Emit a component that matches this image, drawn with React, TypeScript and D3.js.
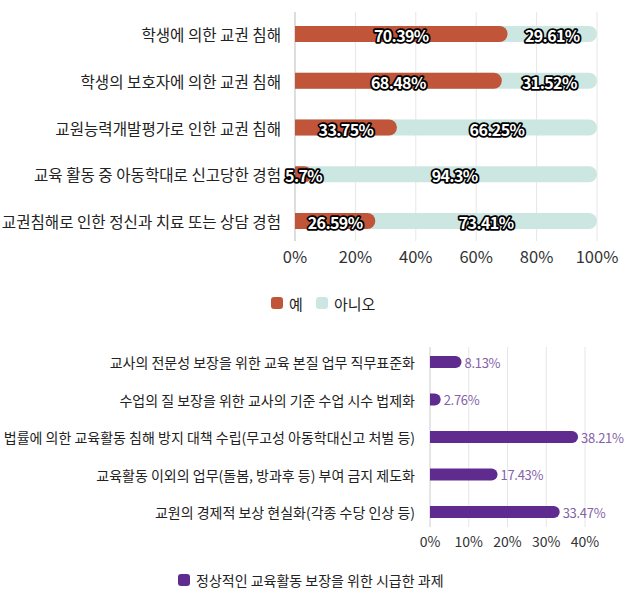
import React from "react";
import * as d3 from "d3";

const topCategories = [
  "학생에 의한 교권 침해",
  "학생의 보호자에 의한 교권 침해",
  "교원능력개발평가로 인한 교권 침해",
  "교육 활동 중 아동학대로 신고당한 경험",
  "교권침해로 인한 정신과 치료 또는 상담 경험",
];
const yesValues = [70.39, 68.48, 33.75, 5.7, 26.59];
const noValues = [29.61, 31.52, 66.25, 94.3, 73.41];
const topTicks = [0, 20, 40, 60, 80, 100];
const topLegend = ["예", "아니오"];

const bottomCategories = [
  "교사의 전문성 보장을 위한 교육 본질 업무 직무표준화",
  "수업의 질 보장을 위한 교사의 기준 수업 시수 법제화",
  "법률에 의한 교육활동 침해 방지 대책 수립(무고성 아동학대신고 처벌 등)",
  "교육활동 이외의 업무(돌봄, 방과후 등) 부여 금지 제도화",
  "교원의 경제적 보상 현실화(각종 수당 인상 등)",
];
const bottomValues = [8.13, 2.76, 38.21, 17.43, 33.47];
const bottomTicks = [0, 10, 20, 30, 40];
const bottomLegend = "정상적인 교육활동 보장을 위한 시급한 과제";

const RED = "#c0553a";
const TEAL = "#cce7e2";
const PURPLE = "#5f2b8f";
const PURPLE_TXT = "#8462a8";
const FONT = "'Noto Sans CJK KR', 'Noto Sans', sans-serif";

function roundRightPath(x0: number, x1: number, yc: number, h: number, r: number) {
  const w = x1 - x0;
  const rr = Math.min(r, w, h / 2);
  const y0 = yc - h / 2;
  const y1 = yc + h / 2;
  return `M${x0},${y0} L${x1 - rr},${y0} A${rr},${h / 2} 0 0 1 ${x1 - rr},${y1} L${x0},${y1} Z`;
}

export default function App() {
  const W = 628;
  const H = 593;

  const tx = d3.scaleLinear().domain([0, 100]).range([295, 597]);
  const ty = d3.scalePoint<string>().domain(topCategories).range([34, 221]);
  const barH = 16;

  const bx = d3.scaleLinear().domain([0, 40]).range([430, 585]);
  const by = d3.scalePoint<string>().domain(bottomCategories).range([362, 512]);
  const bH = 12;

  const fmt = (v: number) => `${v}%`;

  return (
    <svg width={W} height={H} style={{ position: "absolute", left: 0, top: 0, background: "#fff" }} fontFamily={FONT}>
      {topTicks.map((t) => (
        <line key={"tg" + t} x1={tx(t)} x2={tx(t)} y1={12} y2={241} stroke={t === 0 ? "#bbb" : "#e6e6e6"} strokeWidth={1} />
      ))}
      {topCategories.map((c, i) => {
        const yc = ty(c)!;
        return (
          <g key={"tb" + i}>
            <path d={roundRightPath(tx(0), tx(100), yc, barH, 8)} fill={TEAL} />
            <path d={roundRightPath(tx(0), tx(yesValues[i]), yc, barH, 8)} fill={RED} />
            <text x={281} y={yc} textAnchor="end" dominantBaseline="central" fontSize={15.6} fill="#222">{c}</text>
          </g>
        );
      })}
      {topCategories.map((c, i) => {
        const yc = ty(c)!;
        const yesC = tx(yesValues[i] / 2);
        const noC = tx(yesValues[i] + noValues[i] / 2);
        const st = { paintOrder: "stroke" as const, stroke: "#000", strokeWidth: 3.5, strokeLinejoin: "round" as const };
        return (
          <g key={"tl" + i} fontWeight="bold" fontSize={16} fill="#fff" letterSpacing={-0.6}>
            <text x={yesC} y={yc + 1} textAnchor="middle" dominantBaseline="central" style={st}>{fmt(yesValues[i])}</text>
            <text x={noC} y={yc + 1} textAnchor="middle" dominantBaseline="central" style={st}>{fmt(noValues[i])}</text>
          </g>
        );
      })}
      {topTicks.map((t) => (
        <text key={"tt" + t} x={tx(t)} y={256} textAnchor="middle" dominantBaseline="central" fontSize={16.5} fill="#333">{t}%</text>
      ))}
      <rect x={271} y={297} width={12} height={12} rx={3} fill={RED} />
      <text x={289} y={303} dominantBaseline="central" fontSize={15} fill="#222">{topLegend[0]}</text>
      <rect x={316} y={297} width={12} height={12} rx={3} fill={TEAL} />
      <text x={334} y={303} dominantBaseline="central" fontSize={15} fill="#222">{topLegend[1]}</text>

      {bottomTicks.map((t) => (
        <line key={"bg" + t} x1={bx(t)} x2={bx(t)} y1={347} y2={527} stroke={t === 0 ? "#ccc" : "#e6e6e6"} strokeWidth={1} />
      ))}
      {bottomCategories.map((c, i) => {
        const yc = by(c)!;
        return (
          <g key={"bb" + i}>
            <path d={roundRightPath(bx(0), bx(bottomValues[i]), yc, bH, 6)} fill={PURPLE} />
            <text x={415} y={yc} textAnchor="end" dominantBaseline="central" fontSize={14} fill="#222">{c}</text>
            <text x={bx(bottomValues[i]) + 3} y={yc} dominantBaseline="central" fontSize={13} letterSpacing={-0.3} fill={PURPLE_TXT}>{fmt(bottomValues[i])}</text>
          </g>
        );
      })}
      {bottomTicks.map((t) => (
        <text key={"bt" + t} x={bx(t)} y={541} textAnchor="middle" dominantBaseline="central" fontSize={14} fill="#333">{t}%</text>
      ))}
      <rect x={178} y={574} width={12} height={12} rx={3} fill={PURPLE} />
      <text x={196} y={580} dominantBaseline="central" fontSize={14} fill="#222">{bottomLegend}</text>
    </svg>
  );
}
